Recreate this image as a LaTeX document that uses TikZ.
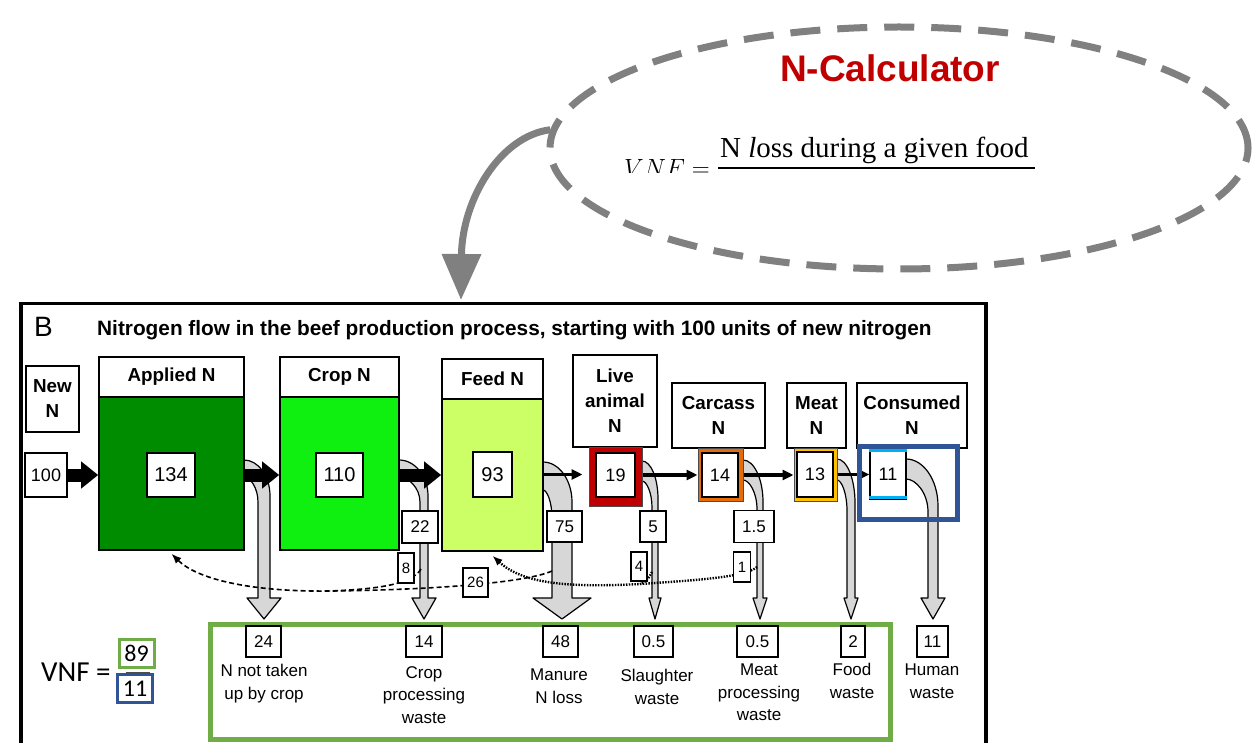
\documentclass[tikz,border=0pt]{standalone}
\usepackage{fontspec}
\setmainfont{Liberation Sans}
\newfontfamily\serifface{Liberation Serif}
\newfontfamily\calibriface{Carlito}
\usetikzlibrary{arrows.meta,shapes.geometric}

\definecolor{calcgray}{RGB}{128,128,128}
\definecolor{calcred}{RGB}{192,0,0}
\definecolor{appliedgreen}{RGB}{0,140,0}
\definecolor{cropgreen}{RGB}{16,240,16}
\definecolor{feedgreen}{RGB}{204,255,102}
\definecolor{animalred}{RGB}{192,0,0}
\definecolor{carcassorange}{RGB}{228,108,10}
\definecolor{meatyellow}{RGB}{255,192,0}
\definecolor{consumedblue}{RGB}{0,176,240}
\definecolor{hlblue}{RGB}{47,85,151}
\definecolor{hlgreen}{RGB}{112,173,71}
\definecolor{pipegray}{RGB}{215,215,215}

% loss pipe: #1 box edge x, #2 top y, #3 bottom y, #4 shaft centre x,
% #5 shaft half-width, #6 head half-width, #7 bend depth
\newcommand{\losspipe}[7]{%
  \filldraw[pipe] ({#1-3},#2) -- (#1,#2)
    .. controls ({#1+0.55*(#4+#5-#1)},#2) and ({#4+#5},{#2+0.45*#7}) .. ({#4+#5},{#2+#7})
    -- ({#4+#5},598) -- ({#4+#6},598) -- (#4,619) -- ({#4-#6},598) -- ({#4-#5},598)
    -- ({#4-#5},{#3+0.7*#7})
    .. controls ({#4-#5},{#3+0.3*#7}) and ({#1+0.45*(#4-#5-#1)},#3) .. (#1,#3)
    -- ({#1-3},#3) -- cycle;}

\begin{document}
\begin{tikzpicture}[x=1pt,y=-1pt,
  sz/.style 2 args={minimum width=#1pt,minimum height=#2pt},
  box/.style={draw=black,line width=1.6pt,fill=white,inner sep=0pt,align=center},
  hdr/.style={box,font=\bfseries\fontsize{18.8}{25}\selectfont},
  stock/.style={draw=black,line width=1.6pt,inner sep=0pt},
  frame/.style={draw=black!70,line width=1pt,inner sep=0pt},
  val/.style={box,font=\fontsize{20}{22}\selectfont},
  sval/.style={box,line width=1.3pt,font=\fontsize{18}{20}\selectfont},
  bval/.style={box,line width=1.4pt,font=\fontsize{17}{19}\selectfont},
  plab/.style={box,line width=1.4pt,font=\fontsize{17}{19}\selectfont},
  rlab/.style={box,line width=1.3pt,font=\fontsize{15}{17}\selectfont},
  caption/.style={inner sep=0pt,align=center,anchor=north,font=\fontsize{17}{22.5}\selectfont},
  fat/.style={line width=13pt,-{Triangle[length=17pt,width=26pt]}},
  thin/.style={line width=3.5pt,-{Triangle[length=11pt,width=10pt]}},
  pipe/.style={draw=black,line width=1.2pt,fill=pipegray,line join=round},
  dashedline/.style={line width=1.6pt,dash pattern=on 5pt off 3pt},
  dashedret/.style={dashedline,-{Latex[length=10pt,width=8pt]}},
  dottedline/.style={line width=2.4pt,dash pattern=on 1.5pt off 1.3pt},
  dottedret/.style={dottedline,-{Latex[length=10pt,width=8pt]}},
  highlight/.style={draw=#1,line width=5pt,inner sep=0pt}
]
\useasboundingbox (0,0) rectangle (1258,743);

% ---- N-Calculator bubble ----
\node[ellipse,draw=calcgray,line width=7pt,dash pattern=on 30pt off 17pt,
      minimum width=698pt,minimum height=242pt,inner sep=0pt] (calc) at (899,148) {};
\node[anchor=base,inner sep=0pt,text=calcred,font=\bfseries\fontsize{37}{40}\selectfont]
  (calctitle) at (890,82) {N-Calculator};
\begin{scope}
  \clip (600,110) rectangle (1045,173);
  \node[anchor=base west,inner sep=0pt,font=\fontsize{26}{28}\selectfont] (vnfeq) at (624,177) {$VNF =$};
\end{scope}
\node[anchor=base west,inner sep=0pt,font=\serifface\fontsize{29}{30}\selectfont]
  (numer) at (720,158) {N \textit{l}oss during a given food};
\draw[line width=1.4pt] ([xshift=-2pt,yshift=-10pt]numer.base west) -- ([xshift=6pt,yshift=-10pt]numer.base east);

% ---- panel B ----
\node[draw=black,line width=3.5pt,inner sep=0pt,sz={965}{460},anchor=north west] (panel) at (19,302) {};
\coordinate (paneltop) at (461,300);
\draw[calcgray,line width=7pt,-{Triangle[length=46pt,width=38pt]}]
  (calc.177) .. controls (500,136) and (462,200) .. (paneltop);

\node[anchor=base west,inner sep=0pt,font=\fontsize{28}{30}\selectfont] (panelB) at (34,336) {B};
\node[anchor=base west,inner sep=0pt,font=\bfseries\fontsize{20.8}{22}\selectfont] (paneltitle) at (97,335)
  {Nitrogen flow in the beef production process, starting with 100 units of new nitrogen};

% ---- loss pipes ----
\losspipe{244}{460}{477}{264}{6}{17}{36}
\losspipe{399}{460}{477}{424}{4}{12}{36}
\losspipe{543}{462}{490}{562}{10}{29}{40}
\losspipe{642}{461}{481}{655}{3}{6}{38}
\losspipe{743}{460}{480}{760}{3}{7}{42}
\losspipe{837}{459}{480}{851}{4}{7}{44}
\losspipe{906}{459}{479}{933}{5}{12}{47}

% ---- pools ----
\node[hdr,sz={53}{66}] (newN) at (52.5,399) {New\\N};
\node[val,line width=1.4pt,sz={42}{44},font=\fontsize{18}{20}\selectfont] (v100) at (46,475) {100};

\node[hdr,sz={145}{40}] (appliedH) at (171.5,377) {Applied N};
\node[stock,fill=appliedgreen,sz={145}{153}] (appliedBox) at (171.5,473.5) {};
\node[val,sz={48}{44}] (v134) at (171,475) {134};

\node[hdr,sz={119}{40}] (cropH) at (339.5,377) {Crop N};
\node[stock,fill=cropgreen,sz={119}{153}] (cropBox) at (339.5,473.5) {};
\node[val,sz={47}{44}] (v110) at (339.5,475) {110};

\node[hdr,sz={101}{40}] (feedH) at (492.5,379) {Feed N};
\node[stock,fill=feedgreen,sz={101}{152}] (feedBox) at (492.5,475) {};
\node[val,sz={39}{45}] (v93) at (492.5,474.5) {93};

\node[hdr,sz={84}{92}] (liveH) at (615,401) {Live\\animal\\N};
\node[frame,fill=animalred,sz={53}{59}] (animalBox) at (615.5,476.5) {};
\node[sval,sz={39}{44}] (v19) at (615.5,475) {19};

\node[hdr,sz={93}{65}] (carcassH) at (718.5,415.5) {Carcass\\N};
\node[frame,fill=carcassorange,sz={45}{53}] (carcassBox) at (720.5,474.5) {};
\node[sval,sz={36}{44}] (v14) at (720,475) {14};

\node[hdr,sz={59}{65}] (meatH) at (816.5,415.5) {Meat\\N};
\node[frame,fill=meatyellow,sz={43}{53}] (meatBox) at (815.5,474.5) {};
\node[sval,sz={36}{45}] (v13) at (815,474.5) {13};

\node[hdr,sz={110}{65}] (consumedH) at (912,415.5) {Consumed\\N};
\node[sval,line width=1.2pt,sz={36}{49}] (v11) at (888,474.5) {11};
\draw[consumedblue,line width=3pt] ([yshift=-1.5pt]v11.north west) -- ([yshift=-1.5pt]v11.north east);
\draw[consumedblue,line width=3pt] ([yshift=2pt]v11.south west) -- ([yshift=2pt]v11.south east);

% ---- main flow ----
\draw[fat] (v100.east) -- (v100.east -| appliedBox.west);
\draw[fat] (appliedBox.east |- v134) -- (v134 -| cropBox.west);
\draw[fat] (cropBox.east |- v110) -- (v110 -| feedBox.west);
\draw[thin,shorten >=6pt] (feedBox.east |- v93) -- (v93 -| animalBox.west);
\draw[thin] (animalBox.east |- v19) -- (v19 -| carcassBox.west);
\draw[thin] (carcassBox.east |- v14) -- (v14 -| meatBox.west);
\draw[thin] (meatBox.east |- v13) -- (v13 -| v11.west);

\node[highlight=hlblue,sz={98}{73},anchor=north west] (hlConsumed) at (857,444) {};

% ---- recycled N ----
\coordinate (manureL) at (552,571);
\coordinate (cropL) at (421,569);
\coordinate (slaughterL) at (652,572);
\coordinate (meatprocL) at (757,567);
\coordinate (mergeA) at (330,591);
\coordinate (mergeB) at (640,584);
\draw[dashedret] (manureL) .. controls (525,583) and (430,590) .. (mergeA)
  .. controls (250,592) and (197,579) .. ([yshift=-3pt]appliedBox.south);
\draw[dashedline] (cropL) .. controls (412,584) and (380,589) .. (mergeA);
\draw[dottedret] (meatprocL) .. controls (745,577) and (700,580) .. (mergeB)
  .. controls (565,588) and (522,583) .. ([yshift=-4pt]feedBox.south);
\draw[dottedline] (slaughterL) .. controls (648,580) and (644,583) .. (mergeB);

% ---- loss labels ----
\node[plab,sz={36}{32}] (l22) at (420,527) {22};
\node[plab,sz={35}{31}] (l75) at (564.5,526.5) {75};
\node[plab,sz={26}{31}] (l5) at (653,526.5) {5};
\node[plab,sz={40}{32}] (l15) at (754,526.5) {1.5};
\node[rlab,sz={16}{30}] (l8) at (406,568) {8};
\node[rlab,sz={25}{29}] (l26) at (475.5,582.5) {26};
\node[rlab,sz={16}{29}] (l4) at (639,566.5) {4};
\node[rlab,sz={17}{30}] (l1) at (742,567) {1};

% ---- losses ----
\node[highlight=hlgreen,sz={680}{115},anchor=north west] (hlWaste) at (208,622) {};
\node[bval,sz={35}{31}] (b24) at (263.5,641.5) {24};
\node[bval,sz={36}{31}] (b14) at (424,641.5) {14};
\node[bval,sz={35}{31}] (b48) at (560.5,641.5) {48};
\node[bval,sz={39}{31}] (b05a) at (653.5,641.5) {0.5};
\node[bval,sz={41}{31}] (b05b) at (757.5,641.5) {0.5};
\node[bval,sz={24}{31}] (b2) at (853,641.5) {2};
\node[bval,sz={31}{31}] (b11) at (932.5,641.5) {11};

\node[caption] (c24) at (264,664) {N not taken\\up by crop};
\node[caption] (c14) at (424,666) {Crop\\processing\\waste};
\node[caption] (c48) at (559,669) {Manure\\N loss};
\node[caption] (c05a) at (657,669) {Slaughter\\waste};
\node[caption] (c05b) at (759,664) {Meat\\processing\\waste};
\node[caption] (c2) at (852,663) {Food\\waste};
\node[caption] (c11) at (932,664) {Human\\waste};

% ---- VNF ratio ----
\node[anchor=base west,inner sep=0pt,font=\calibriface\fontsize{29}{30}\selectfont] (vnf) at (41,681) {VNF =};
\node[draw=hlgreen,line width=3pt,inner sep=0pt,sz={35}{28},font=\calibriface\fontsize{24}{26}\selectfont] (num89) at (136.5,653.5) {89};
\node[draw=hlblue,line width=3pt,inner sep=0pt,sz={35}{28},font=\calibriface\fontsize{24}{26}\selectfont] (den11) at (135,688.5) {11};
\draw[line width=2pt,black!70] ([xshift=-11pt,yshift=-3.5pt]num89.south) -- ([xshift=13pt,yshift=-3.5pt]num89.south);
\end{tikzpicture}
\end{document}
